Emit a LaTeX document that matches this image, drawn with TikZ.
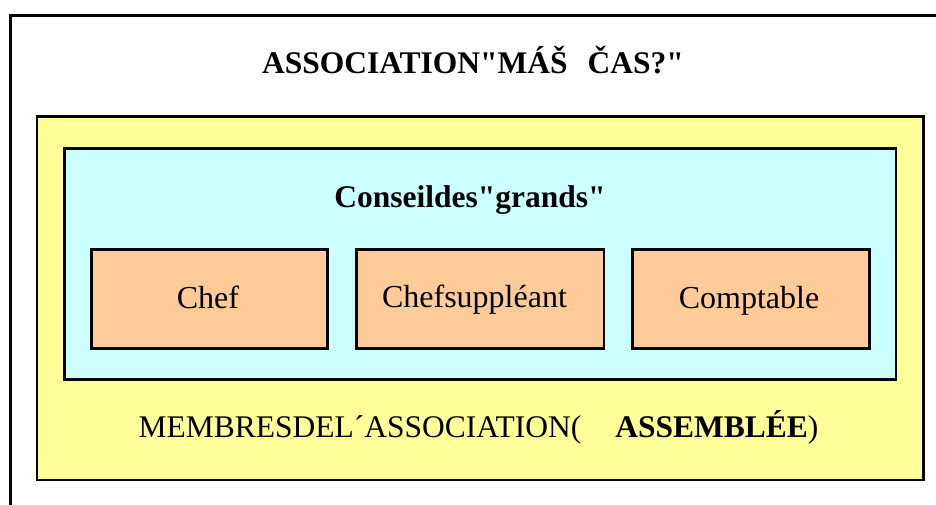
\documentclass[tikz,border=0pt]{standalone}
\usepackage{fontspec}
\setmainfont{Liberation Serif}[Ligatures=TeXOff]
\definecolor{yel}{HTML}{FFFF99}
\definecolor{cya}{HTML}{CCFFFF}
\definecolor{ora}{HTML}{FFCC99}
\begin{document}
\begin{tikzpicture}[x=1pt,y=-1pt,
  box/.style={draw=black, line width=2.5pt, inner sep=0pt, anchor=north west},
  txt/.style={anchor=base, inner sep=0pt, font=\fontsize{32}{38}\selectfont},
  btxt/.style={anchor=base, inner sep=0pt, font=\fontsize{31.5}{36}\selectfont\bfseries}]
\useasboundingbox (0,0) rectangle (936,504);
\clip (0,0) rectangle (936,504);
\node[box, minimum width=1000pt, minimum height=600pt] (frame) at (9,14) {};
\node[box, fill=yel, minimum width=886.5pt, minimum height=363.5pt] (assembly) at (35.5,115) {};
\node[box, fill=cya, minimum width=831.5pt, minimum height=231pt] (conseil) at (63,147) {};
\node[box, fill=ora, minimum width=236pt, minimum height=99pt] (chef) at (90,248) {};
\node[box, fill=ora, minimum width=247.5pt, minimum height=99pt] (chefsupp) at (355,248) {};
\node[box, fill=ora, minimum width=237pt, minimum height=99pt] (comptable) at (631,248) {};
\node[btxt] (title) at (473,73) {ASSOCIATION"MÁŠ\hspace{20pt}ČAS?"};
\node[btxt] (conseiltxt) at (470,207) {Conseildes"grands"};
\node[txt] (cheftxt) at (208,308) {Chef};
\node[txt] (chefsupptxt) at (474.5,307) {Chefsuppléant};
\node[txt] (comptabletxt) at (749,308) {Comptable};
\node[txt, font=\fontsize{31.5}{37}\selectfont] (assemblytxt) at (478.5,437) {MEMBRESDEL´ASSOCIATION(\hspace{34pt}\textbf{ASSEMBLÉE})};
\end{tikzpicture}
\end{document}
